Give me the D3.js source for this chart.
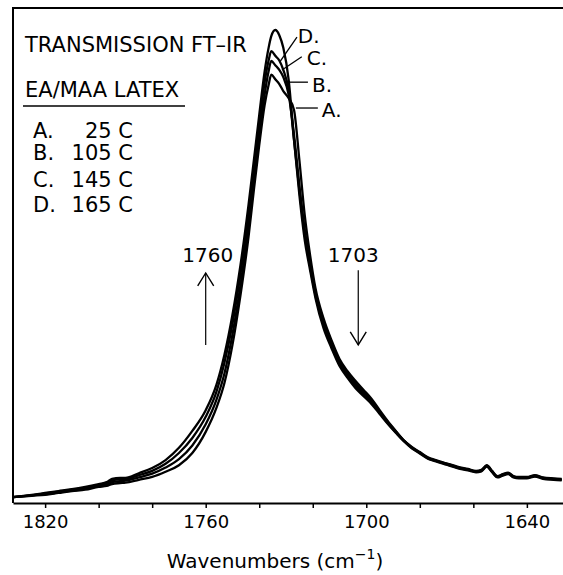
<!DOCTYPE html>
<html>
<head>
<meta charset="utf-8">
<script src="https://cdn.jsdelivr.net/npm/d3@7"></script>
<style>
  body { margin: 0; background: #fff; }
  svg { display: block; }
  text { font-family: "DejaVu Sans", sans-serif; fill: #000; }
</style>
</head>
<body>
<svg width="563" height="575"></svg>
<script>
// wavenumber grid (cm-1) shared by all four spectra
const wavenumbers = [1832, 1825, 1820, 1815, 1810, 1805, 1800, 1797, 1795, 1792, 1790, 1785, 1780, 1775, 1770, 1765,
  1760, 1756, 1753, 1750, 1747, 1744, 1742, 1740, 1738, 1736.5, 1735.5, 1734, 1732.5, 1731, 1729, 1727, 1725, 1723,
  1721, 1719, 1716, 1713, 1710, 1707, 1704, 1701, 1698, 1695, 1692, 1689, 1686, 1683, 1680, 1677, 1674, 1670, 1666,
  1662, 1659, 1657, 1655, 1653, 1651, 1649, 1647, 1645, 1643, 1640, 1637, 1634, 1630, 1627];

// absorbance, one list per temperature
const absA = [.006, .009, .011, .015, .019, .022, .028, .030, .034, .036, .037, .043, .049, .060, .074, .100,
  .145, .196, .249, .330, .436, .560, .660, .755, .840, .883, .905, .895, .885, .870, .855, .830, .723, .606,
  .521, .451, .387, .340, .300, .274, .253, .234, .215, .191, .168, .147, .127, .113, .102, .091, .085, .078, .071,
  .066, .062, .064, .074, .062, .051, .055, .058, .051, .049, .049, .053, .048, .046, .045];
const absB = [.006, .010, .012, .016, .020, .024, .030, .033, .038, .040, .041, .048, .056, .069, .087, .116,
  .161, .213, .269, .352, .457, .584, .682, .777, .862, .912, .934, .925, .915, .900, .862, .777, .670, .575,
  .505, .442, .378, .334, .295, .269, .248, .230, .211, .188, .166, .146, .127, .112, .101, .090, .084, .077, .070,
  .065, .061, .063, .073, .061, .050, .054, .057, .050, .048, .048, .052, .047, .045, .044];
const absC = [.006, .010, .014, .018, .022, .026, .032, .036, .042, .044, .044, .053, .062, .077, .100, .132,
  .177, .230, .292, .375, .481, .608, .703, .798, .888, .935, .955, .945, .935, .915, .872, .766, .660, .565,
  .497, .436, .372, .328, .290, .264, .243, .225, .207, .186, .164, .144, .126, .111, .100, .089, .083, .076, .069,
  .064, .060, .062, .072, .060, .049, .053, .056, .049, .047, .047, .051, .046, .044, .043];
const absD = [.006, .011, .015, .019, .023, .028, .034, .038, .045, .047, .047, .057, .068, .085, .111, .147,
  .191, .245, .309, .394, .500, .628, .723, .819, .911, .962, .987, 1.000, .989, .962, .894, .766, .649, .553,
  .489, .430, .366, .323, .285, .260, .238, .221, .204, .183, .162, .143, .125, .110, .099, .088, .082, .075, .068,
  .063, .059, .061, .071, .059, .048, .052, .055, .048, .046, .046, .050, .045, .043, .042];

const seriesNames = ['A.', 'B.', 'C.', 'D.'];
const seriesTemps = ['25 C', '105 C', '145 C', '165 C'];
const tickValues = [1820, 1800, 1780, 1760, 1740, 1720, 1700, 1680, 1660, 1640];
const labelledTicks = [1820, 1760, 1700, 1640];

// peak labels: text anchor and leader line, in wavenumber / absorbance
const peakLabels = [
  { text: 'D.', wn: 1725.6, ab: 0.972, line: [[1725.9, 0.985], [1732.3, 0.932]] },
  { text: 'C.', wn: 1722.2, ab: 0.926, line: [[1724.1, 0.943], [1731.5, 0.915]] },
  { text: 'B.', wn: 1720.3, ab: 0.868, line: [[1729.7, 0.889], [1721.8, 0.889]] },
  { text: 'A.', wn: 1716.6, ab: 0.815, line: [[1726.3, 0.834], [1718.1, 0.834]] }
];
// band arrows
const bands = [
  { wn: 1760, text: '1760', dir: 'up', dx: 2 },
  { wn: 1703, text: '1703', dir: 'down', dx: -5 }
];

const svg = d3.select('svg');
const x = d3.scaleLinear().domain([1832, 1626.5]).range([13, 563]);
const y = d3.scaleLinear().domain([0, 1]).range([500, 30]);

// frame: top and left
svg.append('path')
  .attr('d', 'M13,503V8H563')
  .attr('fill', 'none')
  .attr('stroke', '#000')
  .attr('stroke-width', 2);

const xAxis = svg.append('g')
  .attr('transform', 'translate(0,503)')
  .call(d3.axisBottom(x)
    .tickValues(tickValues)
    .tickSize(5)
    .tickSizeOuter(0)
    .tickPadding(7)
    .tickFormat(d => labelledTicks.includes(d) ? d : ''));
xAxis.select('.domain').attr('stroke-width', 2);
xAxis.selectAll('.tick line').attr('stroke-width', 1.5);
xAxis.selectAll('.tick text')
  .style('font-family', '"DejaVu Sans", sans-serif')
  .style('font-size', '18px');

const title = svg.append('text')
  .attr('x', 275)
  .attr('y', 568)
  .attr('text-anchor', 'middle')
  .style('font-size', '20px');
title.append('tspan').text('Wavenumbers (cm');
title.append('tspan').attr('dy', -9).style('font-size', '14px').text('\u22121');
title.append('tspan').attr('dy', 9).text(')');

// spectra
const line = d3.line()
  .x((d, i) => x(wavenumbers[i]))
  .y(d => y(d))
  .curve(d3.curveMonotoneX);

svg.append('g')
  .selectAll('path')
  .data([absA, absB, absC, absD])
  .join('path')
  .attr('d', line)
  .attr('fill', 'none')
  .attr('stroke', '#000')
  .attr('stroke-width', 2.3)
  .attr('stroke-linejoin', 'round');

// legend block
const lg = svg.append('g').style('font-size', '21px');
lg.append('text').attr('x', 25).attr('y', 52).text('TRANSMISSION FT\u2013IR');
lg.append('text').attr('x', 25).attr('y', 97).text('EA/MAA LATEX');
lg.append('line').attr('x1', 23).attr('x2', 185).attr('y1', 106).attr('y2', 106)
  .attr('stroke', '#000').attr('stroke-width', 1.5);
const rowY = [138, 160, 187, 212];
seriesNames.forEach((n, i) => {
  lg.append('text').attr('x', 33).attr('y', rowY[i]).text(n);
  lg.append('text').attr('x', 133).attr('y', rowY[i]).attr('text-anchor', 'end').text(seriesTemps[i]);
});

// peak labels
peakLabels.forEach(p => {
  svg.append('text').attr('x', x(p.wn)).attr('y', y(p.ab)).style('font-size', '20px').text(p.text);
  svg.append('line')
    .attr('x1', x(p.line[0][0])).attr('y1', y(p.line[0][1]))
    .attr('x2', x(p.line[1][0])).attr('y2', y(p.line[1][1]))
    .attr('stroke', '#000').attr('stroke-width', 1.3);
});

// band arrows
bands.forEach(b => {
  const bx = x(b.wn);
  svg.append('text').attr('x', bx + b.dx).attr('y', y(0.506))
    .attr('text-anchor', 'middle').style('font-size', '20px').text(b.text);
  const top = y(b.dir === 'up' ? 0.483 : 0.489), bot = y(0.33);
  svg.append('line').attr('x1', bx).attr('x2', bx).attr('y1', top).attr('y2', bot)
    .attr('stroke', '#000').attr('stroke-width', 1.2);
  const tip = b.dir === 'up' ? top : bot, s = b.dir === 'up' ? 1 : -1;
  svg.append('path')
    .attr('d', `M${bx - 8},${tip + s * 13}L${bx},${tip}L${bx + 8},${tip + s * 13}`)
    .attr('fill', 'none').attr('stroke', '#000').attr('stroke-width', 1.4);
});
</script>
</body>
</html>
